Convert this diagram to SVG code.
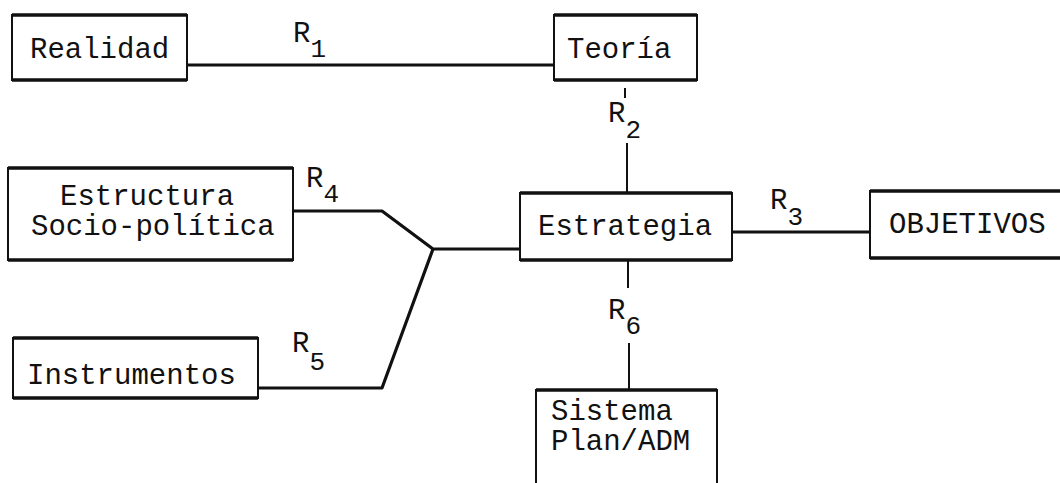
<svg xmlns="http://www.w3.org/2000/svg" width="1060" height="483" viewBox="0 0 1060 483">
<style>
.box{fill:#fff;stroke:#111;stroke-width:2}
.edge{fill:none;stroke:#111;stroke-width:3.5}
.t{font-family:"Liberation Mono","DejaVu Sans Mono",monospace;font-size:29px;fill:#111}
.lbl{font-family:"Liberation Mono","DejaVu Sans Mono",monospace;font-size:29px;fill:#111}
.sub{font-size:26px}
.c{fill:none;stroke:#111;stroke-width:3.2;stroke-linejoin:round}
.v{fill:none;stroke:#111;stroke-width:2}
</style>
<rect width="1060" height="483" fill="#fff"/>
<g id="connectors">
<path class="c" d="M187 65H554"/>
<path class="v" d="M625 88V98M627 143V193"/>
<path class="c" d="M732 232H870"/>
<path class="c" d="M293 211H382L433 249H520"/>
<path class="c" d="M258 388H382L433 249"/>
<path class="v" d="M628 260V288M629 343V390"/>
<text class="lbl" x="293" y="42">R<tspan class="sub" dy="15">1</tspan></text>
<text class="lbl" x="608" y="122">R<tspan class="sub" dy="16">2</tspan></text>
<text class="lbl" x="770" y="209">R<tspan class="sub" dy="16">3</tspan></text>
<text class="lbl" x="306" y="187">R<tspan class="sub" dy="15">4</tspan></text>
<text class="lbl" x="292" y="352">R<tspan class="sub" dy="18">5</tspan></text>
<text class="lbl" x="608" y="319">R<tspan class="sub" dy="15">6</tspan></text>
</g>
<g id="realidad">
<rect class="box" x="12" y="15" width="175" height="65"/>
<path class="edge" d="M12 15H187M12 80H187"/>
<text class="t" x="30" y="58">Realidad</text>
</g>
<g id="teoria">
<rect class="box" x="554" y="15" width="143" height="65"/>
<path class="edge" d="M554 15H697M554 80H697"/>
<text class="t" x="567" y="58">Teoría</text>
</g>
<g id="estructura">
<rect class="box" x="8" y="168" width="285" height="92"/>
<path class="edge" d="M8 168H293M8 260H293"/>
<text class="t" x="60" y="205">Estructura</text>
<text class="t" x="31" y="235">Socio-política</text>
</g>
<g id="estrategia">
<rect class="box" x="520" y="193" width="212" height="67"/>
<path class="edge" d="M520 193H732M520 260H732"/>
<text class="t" x="538" y="235">Estrategia</text>
</g>
<g id="objetivos">
<rect class="box" x="870" y="191" width="200" height="67"/>
<path class="edge" d="M870 191H1060M870 258H1060"/>
<text class="t" x="889" y="233">OBJETIVOS</text>
</g>
<g id="instrumentos">
<rect class="box" x="13" y="338" width="245" height="60"/>
<path class="edge" d="M13 338H258M13 398H258"/>
<text class="t" x="27" y="384">Instrumentos</text>
</g>
<g id="sistema">
<rect class="box" x="536" y="390" width="181" height="100"/>
<path class="edge" d="M536 390H717"/>
<text class="t" x="551" y="420">Sistema</text>
<text class="t" x="551" y="450">Plan/ADM</text>
</g>
</svg>
